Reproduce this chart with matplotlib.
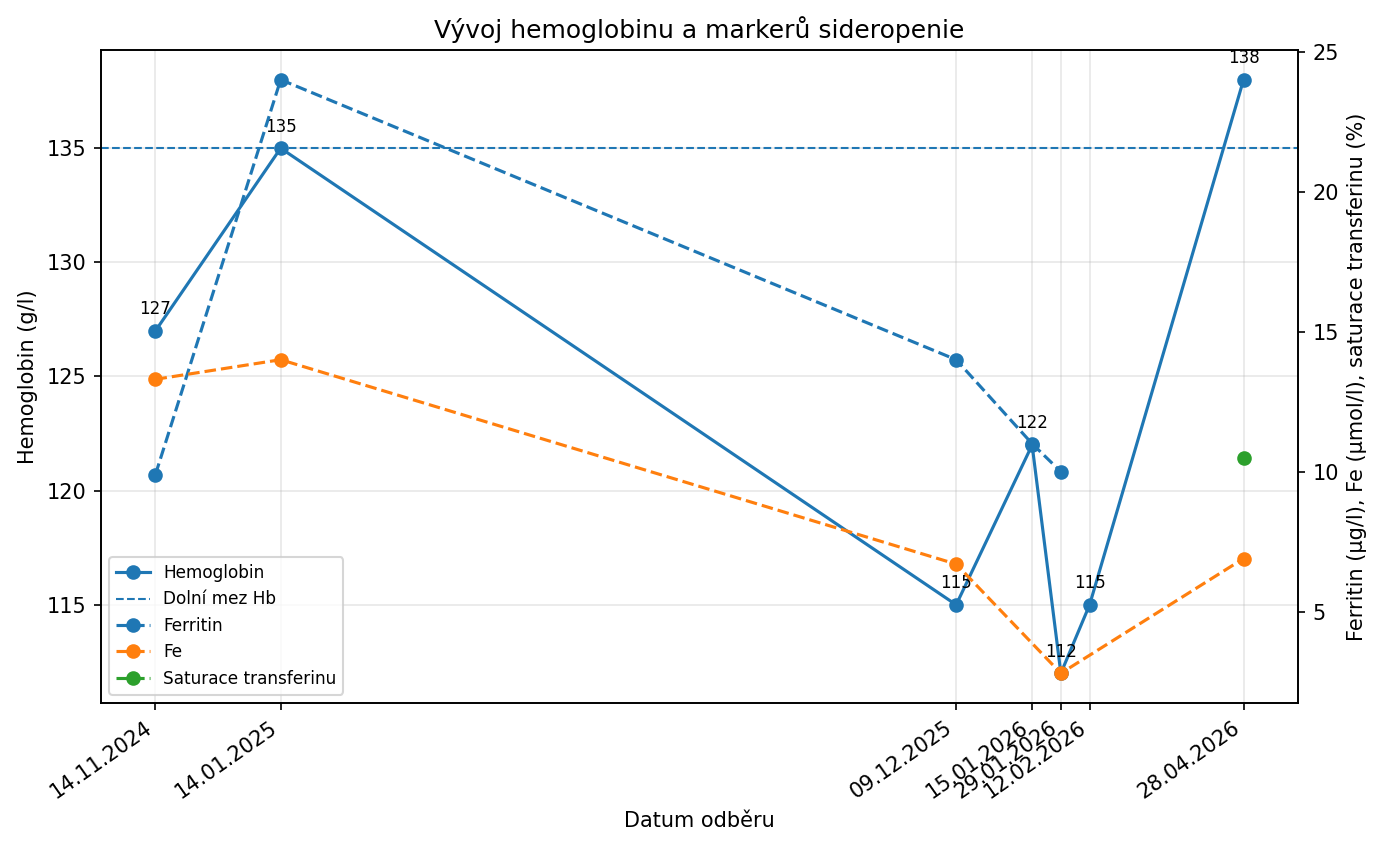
import pandas as pd
import matplotlib
matplotlib.use("Agg")
import matplotlib.pyplot as plt

# data
dates = ["14.11.2024", "14.01.2025", "09.12.2025", "15.01.2026",
         "29.01.2026", "12.02.2026", "28.04.2026"]
hemoglobin = [127, 135, 115, 122, 112, 115, 138]
ferritin = [9.9, 24.0, 14.0, 11.0, 10.0, None, None]
fe = [13.3, 14.0, 6.7, None, 2.8, None, 6.9]
saturace = [None, None, None, None, None, None, 10.5]
hb_lower = 135

df = pd.DataFrame({
    "datum": pd.to_datetime(dates, format="%d.%m.%Y"),
    "hb": hemoglobin,
    "ferritin": ferritin,
    "fe": fe,
    "sat": saturace,
})

fig, ax = plt.subplots(figsize=(9.24, 5.68), dpi=150)
fig.subplots_adjust(left=0.0729, right=0.9365, top=0.9413, bottom=0.1749)

# hemoglobin + lower limit on the left axis
l_hb, = ax.plot(df["datum"], df["hb"], marker="o", color="C0", label="Hemoglobin")
l_lim = ax.axhline(hb_lower, linestyle="--", linewidth=1, color="C0", label="Dolní mez Hb")
for d, v in zip(df["datum"], df["hb"]):
    ax.annotate(str(v), (d, v), xytext=(0, 8), textcoords="offset points",
                ha="center", fontsize=8)
ax.set_ylabel("Hemoglobin (g/l)")
ax.set_xlabel("Datum odběru")
ax.grid(True, alpha=0.3)

# iron markers on the right axis, only dates with a value
ax2 = ax.twinx()
m = df["ferritin"].notna()
l_fer, = ax2.plot(df["datum"][m], df["ferritin"][m], marker="o", linestyle="--",
                  color="C0", label="Ferritin")
m = df["fe"].notna()
l_fe, = ax2.plot(df["datum"][m], df["fe"][m], marker="o", linestyle="--",
                 color="C1", label="Fe")
m = df["sat"].notna()
l_sat, = ax2.plot(df["datum"][m], df["sat"][m], marker="o", linestyle="--",
                  color="C2", label="Saturace transferinu")
ax2.set_ylabel("Ferritin (µg/l), Fe (µmol/l), saturace transferinu (%)")

ax.set_xticks(df["datum"])
ax.set_xticklabels(dates, rotation=35, ha="right")

handles = [l_hb, l_lim, l_fer, l_fe, l_sat]
ax2.legend(handles, [h.get_label() for h in handles], loc="lower left", fontsize=8.1)

ax.set_title("Vývoj hemoglobinu a markerů sideropenie")

fig.savefig("out.png")
